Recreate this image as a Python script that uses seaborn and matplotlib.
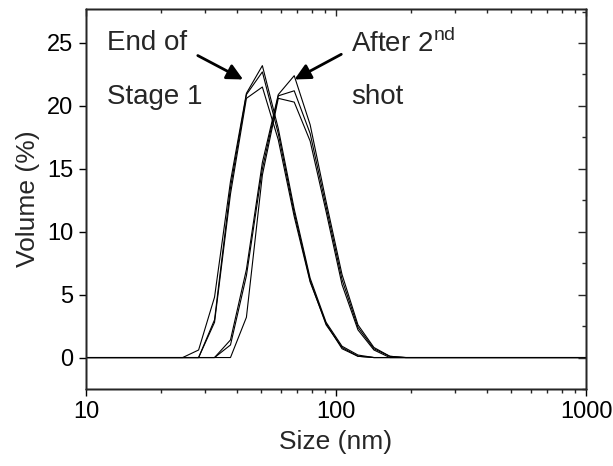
import numpy as np
import pandas as pd
import matplotlib
matplotlib.use("Agg")
import matplotlib.pyplot as plt
import seaborn as sns
from matplotlib.ticker import MultipleLocator, LogLocator, NullFormatter

# Size bins (nm) - DLS bins
sizes = [10, 24.36, 28.21, 32.67, 37.84, 43.82, 50.75, 58.77, 68.06, 78.82,
         91.28, 105.7, 122.4, 141.8, 164.2, 190.1, 1000]

# End of Stage 1 (three runs)
stage1_a = [0, 0, 0.6, 4.8, 14.0, 21.0, 23.2, 18.2, 11.8, 6.3, 2.8, 0.9, 0.2, 0, 0, 0, 0]
stage1_b = [0, 0, 0, 3.0, 13.5, 20.9, 22.7, 17.8, 11.5, 6.1, 2.6, 0.8, 0.1, 0, 0, 0, 0]
stage1_c = [0, 0, 0, 2.8, 13.0, 20.6, 21.5, 17.3, 11.2, 6.0, 2.7, 0.7, 0.1, 0, 0, 0, 0]

# After 2nd shot (three runs)
shot2_a = [0, 0, 0, 0, 1.4, 7.0, 15.5, 20.9, 22.4, 18.5, 12.4, 6.6, 2.6, 0.8, 0.1, 0, 0]
shot2_b = [0, 0, 0, 0, 1.0, 6.5, 15.0, 20.8, 21.2, 17.8, 12.0, 6.2, 2.4, 0.7, 0.1, 0, 0]
shot2_c = [0, 0, 0, 0, 0, 3.2, 14.5, 20.6, 20.3, 17.2, 11.6, 5.8, 2.2, 0.6, 0, 0, 0]

series = {"s1a": stage1_a, "s1b": stage1_b, "s1c": stage1_c,
          "s2a": shot2_a, "s2b": shot2_b, "s2c": shot2_c}

rows = []
for name, vals in series.items():
    for s, v in zip(sizes, vals):
        rows.append({"size": s, "volume": v, "run": name})
df = pd.DataFrame(rows)

sns.set_style("ticks")
plt.rcParams['font.family'] = ['Liberation Sans', 'DejaVu Sans']
plt.rcParams['mathtext.fontset'] = 'custom'
plt.rcParams['mathtext.rm'] = 'Liberation Sans'

fig = plt.figure(figsize=(6.13, 4.66), dpi=100)
ax = fig.add_axes([86/613, 1 - 389/466, 500/613, 380/466])

sns.lineplot(data=df, x="size", y="volume", units="run", estimator=None,
             color="black", linewidth=0.8, ax=ax, legend=False, sort=False)

ax.set_xscale("log")
ax.set_xlim(10, 1000)
ax.set_ylim(-2.5, 27.7)
ax.yaxis.set_major_locator(MultipleLocator(5))
ax.xaxis.set_minor_locator(LogLocator(base=10, subs=np.arange(2, 10), numticks=10))
ax.xaxis.set_minor_formatter(NullFormatter())
ax.set_xticks([10, 100, 1000])
ax.set_xticklabels(["10", "100", "1000"])

ax.set_xlabel("Size (nm)", fontsize=19, labelpad=5)
ax.set_ylabel("Volume (%)", fontsize=19, labelpad=5)

for sp in ax.spines.values():
    sp.set_linewidth(1.0)
    sp.set_visible(True)
    sp.set_color("black")

ax.tick_params(axis="both", which="major", direction="out", length=5, width=1,
               labelsize=17, colors="black", pad=4)
ax.tick_params(axis="x", which="minor", direction="out", length=3, width=1)

# top and right mirrored ticks (inward)
axt = ax.twiny()
axt.set_xscale("log")
axt.set_xlim(ax.get_xlim())
axt.xaxis.set_minor_locator(LogLocator(base=10, subs=np.arange(2, 10), numticks=10))
axt.set_xticks([10, 100, 1000])
axt.tick_params(axis="x", which="both", direction="in", labeltop=False, width=1)
axt.tick_params(axis="x", which="major", length=5)
axt.tick_params(axis="x", which="minor", length=3)
axr = ax.twinx()
axr.set_ylim(ax.get_ylim())
axr.yaxis.set_major_locator(MultipleLocator(5))
axr.yaxis.set_minor_locator(MultipleLocator(2.5))
axr.tick_params(axis="y", which="both", direction="in", labelright=False, width=1)
axr.tick_params(axis="y", which="major", length=5.5)
axr.tick_params(axis="y", which="minor", length=3)
for a in (axt, axr):
    for sp in a.spines.values():
        sp.set_linewidth(1.0)

# annotations
ax.text(12.1, 25.0, "End of", fontsize=20, va="center", ha="left")
ax.text(12.1, 20.7, "Stage 1", fontsize=20, va="center", ha="left")
ax.text(115, 25.0, r"After 2$^{\rm nd}$", fontsize=20, va="center", ha="left")
ax.text(115, 20.7, "shot", fontsize=20, va="center", ha="left")

arrow = dict(arrowstyle="-|>", lw=2, color="black", mutation_scale=24,
             shrinkA=0, shrinkB=0)
ax.annotate("", xy=(42.5, 22.1), xytext=(28.0, 24.0), arrowprops=arrow)
ax.annotate("", xy=(68.2, 22.1), xytext=(105, 24.1), arrowprops=arrow)

fig.savefig("out.png", dpi=100)
